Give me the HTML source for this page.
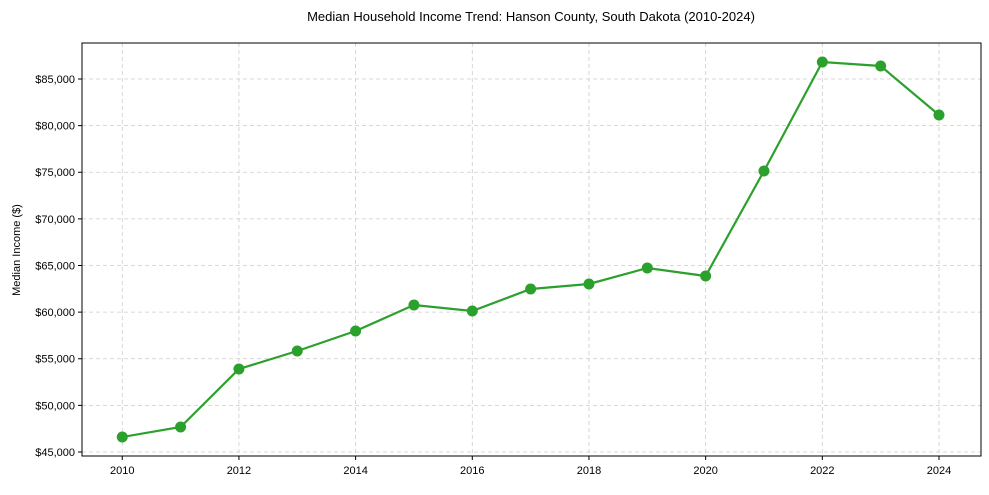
<!DOCTYPE html>
<html><head><meta charset="utf-8"><style>
body{margin:0;background:#fff;font-family:"Liberation Sans",Arial,sans-serif}
svg text{font-family:"Liberation Sans",Arial,sans-serif;fill:#000}
</style></head><body>
<svg id="chart" width="989" height="490" xmlns="http://www.w3.org/2000/svg">
<text x="531" y="21" font-size="13" text-anchor="middle">Median Household Income Trend: Hanson County, South Dakota (2010-2024)</text>
<text transform="translate(20,250) rotate(-90)" font-size="11" text-anchor="middle">Median Income ($)</text>
<g id="grid"></g><g id="axes"></g><g id="series"></g>
</svg>
<script>
const years=[2010,2011,2012,2013,2014,2015,2016,2017,2018,2019,2020,2021,2022,2023,2024];
const incomes=[46609,47681,53901,55831,57976,60764,60121,62480,63016,64732,63874,75134,86823,86394,81139];
const xTicks=[2010,2012,2014,2016,2018,2020,2022,2024];
const yTicks=[45000,50000,55000,60000,65000,70000,75000,80000,85000];
const L=82,R=981,T=43,B=456;
const X0=2009.31,X1=2024.72,Y0=44571,Y1=88860;
const sx=v=>L+(v-X0)/(X1-X0)*(R-L);
const sy=v=>B-(v-Y0)/(Y1-Y0)*(B-T);
const NS="http://www.w3.org/2000/svg";
function mk(tag,attrs,parent){const e=document.createElementNS(NS,tag);for(const k in attrs)e.setAttribute(k,attrs[k]);parent.appendChild(e);return e;}
const grid=document.getElementById('grid'),axes=document.getElementById('axes'),series=document.getElementById('series');
xTicks.forEach(t=>{const x=sx(t);
const g=mk('line',{x1:x,x2:x,y1:T,y2:B,stroke:'#ccc','stroke-dasharray':'4,3','stroke-width':0.8},grid);

mk('line',{x1:x,x2:x,y1:B,y2:B+4,stroke:'#000'},axes);
const tx=mk('text',{x:x,y:B+18,'font-size':11,'text-anchor':'middle'},axes);tx.textContent=t;
});
yTicks.forEach(t=>{const y=sy(t);
const g=mk('line',{x1:L,x2:R,y1:y,y2:y,stroke:'#ccc','stroke-dasharray':'4,3','stroke-width':0.8},grid);

mk('line',{x1:L-4,x2:L,y1:y,y2:y,stroke:'#000'},axes);
const tx=mk('text',{x:L-7,y:y+4,'font-size':11,'text-anchor':'end'},axes);tx.textContent='$'+t.toLocaleString('en-US');
});
const fr=mk('rect',{x:L,y:T,width:R-L,height:B-T,fill:'none',stroke:'#000','stroke-width':1},axes);

const pts=years.map((y,i)=>sx(y)+','+sy(incomes[i])).join(' ');
const pl=mk('polyline',{points:pts,fill:'none',stroke:'#2ca02c','stroke-width':2.2},series);

years.forEach((y,i)=>{const c=mk('circle',{cx:sx(y),cy:sy(incomes[i]),r:5.5,fill:'#2ca02c'},series);
});
</script>
</body></html>
